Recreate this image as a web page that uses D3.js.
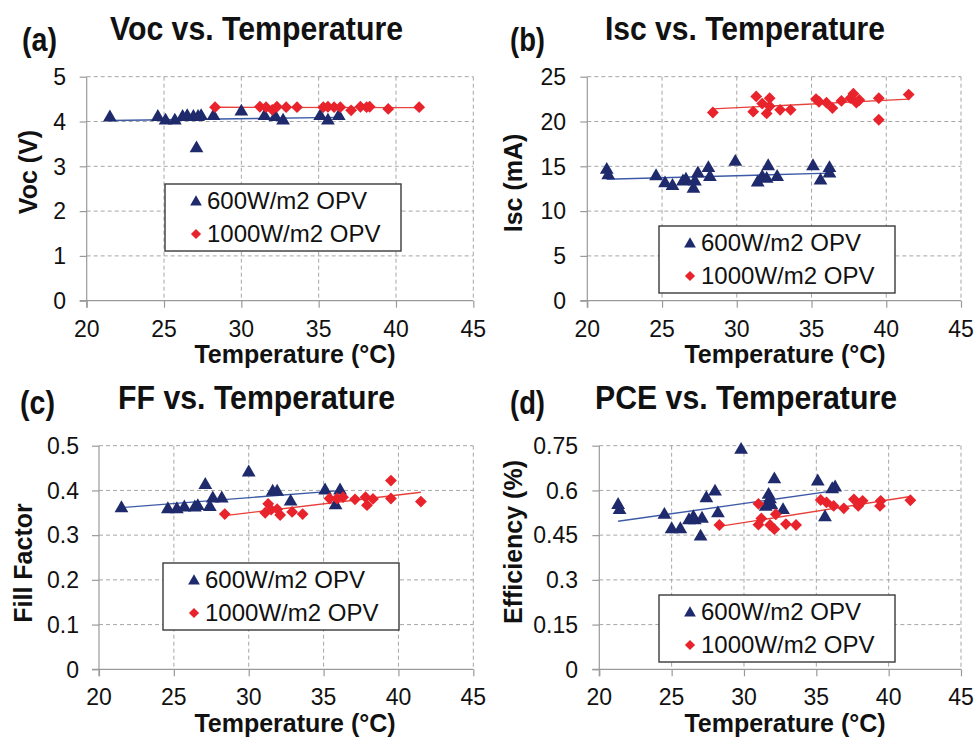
<!DOCTYPE html>
<html>
<head>
<meta charset="utf-8">
<script src="https://cdn.jsdelivr.net/npm/d3@7"></script>
<style>
  body { margin: 0; background: #fff; }
  svg { display: block; }
  text { font-family: "Liberation Sans", Arial, sans-serif; fill: #111; }
</style>
</head>
<body>
<svg id="chart" width="974" height="738"></svg>
<script>
//----------------- data -----------------
var tempTicks = [20, 25, 30, 35, 40, 45];
var vocTicks = [0, 1, 2, 3, 4, 5];
var iscTicks = [0, 5, 10, 15, 20, 25];
var ffTicks = [0, 0.1, 0.2, 0.3, 0.4, 0.5];
var pceTicks = [0, 0.15, 0.3, 0.45, 0.6, 0.75];

var seriesNames = ["600W/m2 OPV", "1000W/m2 OPV"];

// (a) Voc
var vocT600 = [21.5, 24.6, 25.1, 25.7, 26.2, 26.5, 26.9, 27.1, 27.2, 27.4, 28.2, 30.0, 31.5, 32.2, 32.7, 35.1, 35.6, 36.3];
var voc600  = [4.09, 4.10, 4.02, 4.02, 4.10, 4.12, 4.10, 3.40, 4.10, 4.12, 4.12, 4.22, 4.12, 4.10, 4.02, 4.12, 4.02, 4.12];
var vocT1000 = [28.3, 31.2, 31.6, 32.0, 32.3, 32.9, 33.6, 35.3, 35.6, 36.0, 36.4, 37.1, 37.7, 38.1, 38.3, 39.5, 41.5];
var voc1000  = [4.32, 4.33, 4.32, 4.26, 4.33, 4.32, 4.32, 4.32, 4.33, 4.32, 4.32, 4.25, 4.33, 4.32, 4.33, 4.28, 4.32];

// (b) Isc
var iscT600 = [21.3, 21.4, 24.6, 25.2, 25.7, 26.4, 26.6, 27.1, 27.2, 27.4, 28.1, 28.2, 29.9, 31.4, 31.7, 32.1, 32.0, 32.7, 35.1, 35.6, 36.2, 36.2];
var isc600  = [14.6, 14.0, 13.9, 13.1, 12.8, 13.3, 13.5, 12.5, 13.3, 14.2, 14.8, 13.8, 15.5, 13.2, 13.8, 15.0, 13.6, 13.8, 15.0, 13.4, 14.8, 14.2];
var iscT1000 = [28.4, 31.1, 31.3, 31.7, 32.0, 32.2, 32.2, 32.9, 33.6, 35.3, 35.5, 36.0, 36.4, 37.0, 37.6, 37.8, 38.0, 38.2, 39.5, 39.5, 41.5];
var isc1000  = [21.0, 21.1, 22.8, 22.0, 20.9, 22.6, 21.7, 21.3, 21.3, 22.5, 22.2, 22.1, 21.5, 22.3, 22.6, 23.1, 22.1, 22.4, 22.6, 20.2, 23.0];

// (c) FF
var ffT600 = [21.5, 24.6, 25.2, 25.7, 26.4, 26.6, 27.1, 27.4, 27.6, 28.2, 30.0, 31.6, 31.9, 32.8, 35.1, 35.8, 36.1];
var ff600  = [0.360, 0.358, 0.358, 0.362, 0.362, 0.365, 0.412, 0.363, 0.382, 0.382, 0.440, 0.397, 0.397, 0.375, 0.400, 0.367, 0.400];
var ffT1000 = [28.4, 31.1, 31.3, 31.5, 31.9, 32.1, 32.9, 33.6, 35.4, 35.9, 36.3, 37.1, 37.8, 37.9, 38.3, 39.5, 39.5, 41.5];
var ff1000  = [0.347, 0.350, 0.370, 0.357, 0.358, 0.345, 0.352, 0.347, 0.382, 0.382, 0.385, 0.380, 0.385, 0.367, 0.381, 0.422, 0.382, 0.375];

// (d) PCE
var pceT600 = [21.3, 21.4, 24.5, 25.0, 25.6, 26.2, 26.5, 26.6, 27.1, 27.0, 27.4, 28.0, 28.2, 29.8, 31.5, 31.7, 31.8, 32.1, 31.9, 32.7, 35.1, 35.6, 36.1, 36.3];
var pce600  = [0.551, 0.534, 0.518, 0.470, 0.470, 0.500, 0.510, 0.500, 0.505, 0.445, 0.574, 0.596, 0.523, 0.736, 0.545, 0.585, 0.570, 0.637, 0.550, 0.534, 0.630, 0.510, 0.604, 0.610];
var pceT1000 = [28.3, 31.0, 31.0, 31.2, 31.8, 32.1, 32.2, 32.9, 33.6, 35.3, 35.7, 36.2, 36.9, 37.6, 37.9, 38.2, 39.45, 39.4, 41.5];
var pce1000  = [0.484, 0.555, 0.485, 0.506, 0.484, 0.470, 0.520, 0.487, 0.484, 0.568, 0.560, 0.548, 0.540, 0.570, 0.548, 0.565, 0.565, 0.548, 0.567];

//----------------- layout -----------------
var navy = "#1f2a6c", red = "#e8232b",
    navyLine = "#3c5aa6", redLine = "#e8403a",
    gridColor = "#a6a6a6";

var panels = [
  { letter: "(a)", title: "Voc vs. Temperature", ylabel: "Voc (V)",
    t600: vocT600, v600: voc600, t1000: vocT1000, v1000: voc1000, ticks: vocTicks, fmt: d3.format("d"),
    x0: 86.7, x1: 473.3, yb: 300.7, yt: 76.7, tickX: 66, ylabX: 28, ylabY: 172,
    letterX: 22, titleX: 110, titleW: 293, titleBase: 40, letterBase: 51,
    xTitleX: 295, xTitleBase: 363, xTickBase: 336.7, leg: [165, 184] },
  { letter: "(b)", title: "Isc vs. Temperature", ylabel: "Isc (mA)",
    t600: iscT600, v600: isc600, t1000: iscT1000, v1000: isc1000, ticks: iscTicks, fmt: d3.format("d"),
    x0: 587.3, x1: 961, yb: 300.7, yt: 76.7, tickX: 566, ylabX: 513, ylabY: 183,
    letterX: 510, titleX: 605, titleW: 280, titleBase: 40, letterBase: 51,
    xTitleX: 785, xTitleBase: 363, xTickBase: 336.7, leg: [659, 226] },
  { letter: "(c)", title: "FF vs. Temperature", ylabel: "Fill Factor",
    t600: ffT600, v600: ff600, t1000: ffT1000, v1000: ff1000, ticks: ffTicks, fmt: function(d) { return d === 0 ? "0" : d3.format(".1f")(d); },
    x0: 99, x1: 473.3, yb: 669.3, yt: 445.7, tickX: 79, ylabX: 23, ylabY: 563,
    letterX: 20, titleX: 118, titleW: 277, titleBase: 409, letterBase: 414,
    xTitleX: 295, xTitleBase: 732, xTickBase: 705, leg: [163, 563] },
  { letter: "(d)", title: "PCE vs. Temperature", ylabel: "Efficiency (%)",
    t600: pceT600, v600: pce600, t1000: pceT1000, v1000: pce1000, ticks: pceTicks, fmt: function(d) { return d === 0 ? "0" : String(+d.toFixed(2)); },
    x0: 599.3, x1: 961, yb: 669.3, yt: 445.7, tickX: 578, ylabX: 513, ylabY: 542,
    letterX: 510, titleX: 595, titleW: 302, titleBase: 409, letterBase: 414,
    xTitleX: 785, xTitleBase: 732, xTickBase: 705, leg: [659, 595] }
];

var svg = d3.select("#chart");

var triangle = d3.symbol().type(d3.symbolTriangle).size(82),
    diamond = d3.symbol().type(d3.symbolSquare).size(70),
    legTriangle = d3.symbol().type(d3.symbolTriangle).size(60),
    legDiamond = d3.symbol().type(d3.symbolSquare).size(52);

// least squares linear trendline
function trend(xs, ys) {
  var n = xs.length, mx = d3.mean(xs), my = d3.mean(ys), sxy = 0, sxx = 0;
  for (var i = 0; i < n; i++) { sxy += (xs[i] - mx) * (ys[i] - my); sxx += (xs[i] - mx) * (xs[i] - mx); }
  var b = sxy / sxx, a = my - b * mx, lo = d3.min(xs), hi = d3.max(xs);
  return [[lo, a + b * lo], [hi, a + b * hi]];
}

panels.forEach(function(p) {
  var x = d3.scaleLinear().domain([20, 45]).range([p.x0, p.x1]),
      y = d3.scaleLinear().domain([0, d3.max(p.ticks)]).range([p.yb, p.yt]);

  var g = svg.append("g");

  //grid
  g.selectAll(".hgrid").data(p.ticks.slice(1)).enter().append("line")
    .attr("x1", p.x0).attr("x2", p.x1)
    .attr("y1", function(d) { return y(d); }).attr("y2", function(d) { return y(d); })
    .attr("stroke", gridColor).attr("stroke-dasharray", "4,3");
  g.selectAll(".vgrid").data(tempTicks.slice(1)).enter().append("line")
    .attr("x1", function(d) { return x(d); }).attr("x2", function(d) { return x(d); })
    .attr("y1", p.yt).attr("y2", p.yb)
    .attr("stroke", gridColor).attr("stroke-dasharray", "4,3");

  //axes
  var xAxis = d3.axisBottom(x).tickValues(tempTicks).tickSize(7).tickFormat("");
  var yAxis = d3.axisLeft(y).tickValues(p.ticks).tickSize(7).tickFormat("");
  var gx = g.append("g").attr("transform", "translate(0," + p.yb + ")").call(xAxis);
  var gy = g.append("g").attr("transform", "translate(" + p.x0 + ",0)").call(yAxis);
  [gx, gy].forEach(function(a) {
    a.select(".domain").remove();
    a.selectAll(".tick line").attr("stroke", "#9a9a9a").attr("stroke-width", 1.2);
  });
  g.append("line").attr("x1", p.x0 - 7).attr("x2", p.x1).attr("y1", p.yb).attr("y2", p.yb)
    .attr("stroke", "#9a9a9a").attr("stroke-width", 1.2);
  g.append("line").attr("x1", p.x0).attr("x2", p.x0).attr("y1", p.yt).attr("y2", p.yb + 7)
    .attr("stroke", "#9a9a9a").attr("stroke-width", 1.2);

  //tick labels
  g.selectAll(".xt").data(tempTicks).enter().append("text")
    .attr("x", function(d) { return x(d); }).attr("y", p.xTickBase)
    .attr("text-anchor", "middle").style("font-size", "23px")
    .text(function(d) { return d; });
  g.selectAll(".yt").data(p.ticks).enter().append("text")
    .attr("x", p.tickX).attr("y", function(d) { return y(d); }).attr("dy", "0.36em")
    .attr("text-anchor", "end").style("font-size", "23px")
    .text(p.fmt);

  //titles
  g.append("text").attr("x", p.letterX).attr("y", p.letterBase)
    .attr("textLength", 35).attr("lengthAdjust", "spacingAndGlyphs")
    .style("font-size", "33px").style("font-weight", "bold").text(p.letter);
  g.append("text").attr("x", p.titleX).attr("y", p.titleBase)
    .attr("textLength", p.titleW).attr("lengthAdjust", "spacingAndGlyphs")
    .style("font-size", "33px").style("font-weight", "bold").text(p.title);
  g.append("text").attr("x", p.xTitleX).attr("y", p.xTitleBase)
    .attr("text-anchor", "middle").style("font-size", "25px").style("font-weight", "bold")
    .text("Temperature (\u00B0C)");
  g.append("text")
    .attr("transform", "translate(" + p.ylabX + "," + p.ylabY + ") rotate(-90)")
    .attr("dy", "0.36em").attr("text-anchor", "middle")
    .style("font-size", "25px").style("font-weight", "bold").text(p.ylabel);

  //trendlines
  var line = d3.line().x(function(d) { return x(d[0]); }).y(function(d) { return y(d[1]); });
  g.append("path").attr("d", line(trend(p.t600, p.v600)))
    .attr("stroke", navyLine).attr("stroke-width", 1.4).attr("fill", "none");
  g.append("path").attr("d", line(trend(p.t1000, p.v1000)))
    .attr("stroke", redLine).attr("stroke-width", 1.4).attr("fill", "none");

  //markers
  g.selectAll(".tri").data(p.t600).enter().append("path")
    .attr("d", triangle)
    .attr("transform", function(d, i) { return "translate(" + x(d) + "," + y(p.v600[i]) + ")"; })
    .attr("fill", navy);
  g.selectAll(".dia").data(p.t1000).enter().append("path")
    .attr("d", diamond)
    .attr("transform", function(d, i) { return "translate(" + x(d) + "," + y(p.v1000[i]) + ") rotate(45)"; })
    .attr("fill", red);

  //legend
  var lx = p.leg[0], ly = p.leg[1];
  g.append("rect").attr("x", lx).attr("y", ly).attr("width", 236).attr("height", 67)
    .attr("fill", "#fff").attr("stroke", "#3a3a3a").attr("stroke-width", 1.4);
  g.append("path").attr("d", legTriangle).attr("fill", navy)
    .attr("transform", "translate(" + (lx + 31) + "," + (ly + 18) + ")");
  g.append("path").attr("d", legDiamond).attr("fill", red)
    .attr("transform", "translate(" + (lx + 31) + "," + (ly + 50) + ") rotate(45)");
  g.append("text").attr("x", lx + 42).attr("y", ly + 25).style("font-size", "24px").text(seriesNames[0]);
  g.append("text").attr("x", lx + 42).attr("y", ly + 57.5).style("font-size", "24px").text(seriesNames[1]);
});
</script>
</body>
</html>
